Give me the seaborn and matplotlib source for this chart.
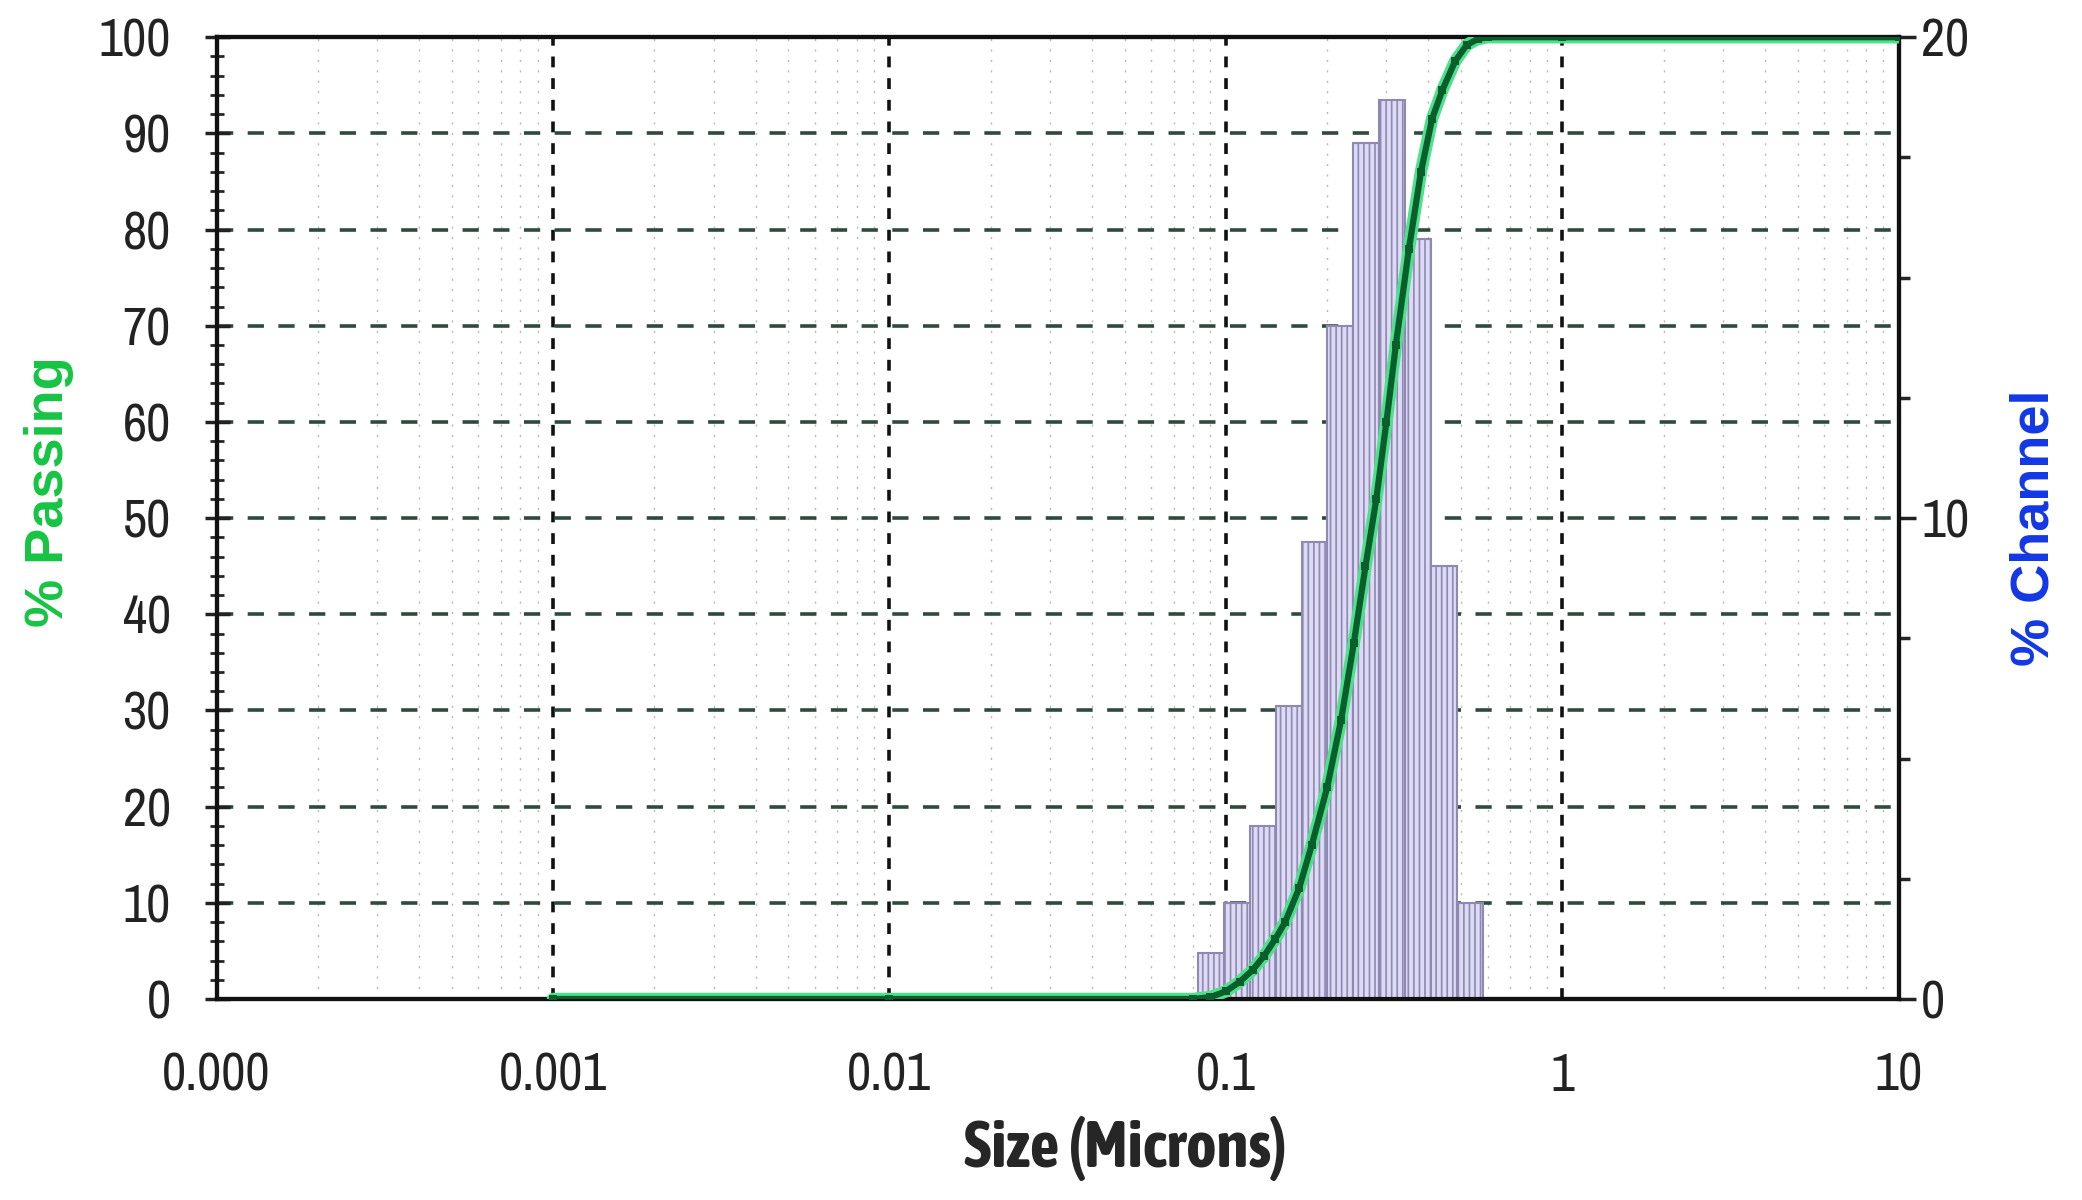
import numpy as np
import pandas as pd
import matplotlib
matplotlib.use("Agg")
import matplotlib.pyplot as plt
import matplotlib.ticker as mticker
from matplotlib import font_manager
import seaborn as sns

# channel bins (microns) and % channel per bin
bin_edges = [0.0826, 0.0986, 0.1178, 0.1406, 0.1679, 0.2004, 0.2388, 0.2851,
             0.3404, 0.4064, 0.4853, 0.5794]
pct_channel = [0.95, 2.0, 3.6, 6.1, 9.5, 14.0, 17.8, 18.7, 15.8, 9.0, 2.0]

# cumulative % passing curve
size_um = [0.001, 0.01, 0.08, 0.09, 0.1, 0.11, 0.12, 0.13, 0.14, 0.15, 0.165,
           0.18, 0.2, 0.22, 0.24, 0.26, 0.28, 0.30, 0.32, 0.35, 0.38, 0.41,
           0.44, 0.48, 0.52, 0.56, 0.6, 1.0, 10.0]
pct_passing = [0, 0, 0, 0.2, 0.8, 1.8, 3.0, 4.5, 6.2, 8.0, 11.5, 16, 22, 29,
               37, 45, 52, 60, 68, 78, 86, 91.5, 94.5, 97.5, 99.2, 99.8,
               100, 100, 100]

xtick_vals = [0.0001, 0.001, 0.01, 0.1, 1, 10]
xtick_labels = ["0.000", "0.001", "0.01", "0.1", "1", "10"]

sns.set_style("white")


def _is_bold(w):
    if isinstance(w, str):
        return w in ('bold', 'heavy', 'extra bold', 'black', 'demibold', 'semibold')
    return w >= 600


# look for a narrow face, like the original
ttf = font_manager.fontManager.ttflist
narrow = sorted({f.name for f in ttf if 'Narrow' in f.name or 'Condensed' in f.name})
narrow_bold = sorted({f.name for f in ttf
                      if ('Narrow' in f.name or 'Condensed' in f.name) and _is_bold(f.weight)})
plt.rcParams['font.family'] = narrow[:1] + ['Liberation Sans', 'DejaVu Sans']
plt.rcParams['hatch.color'] = '#9d94c4'
plt.rcParams['hatch.linewidth'] = 1.2

if narrow_bold:
    xlab_font = dict(family=[narrow_bold[0], 'Liberation Sans'], size=47, weight='bold')
else:
    xlab_font = dict(family=['Liberation Sans', 'DejaVu Sans'], size=39, weight='bold')
ylab_font = dict(family=['Liberation Sans', 'DejaVu Sans'], size=39, weight='bold')

fig = plt.figure(figsize=(20.82, 12), dpi=100)
ax = fig.add_axes([0.104, 0.1675, 0.808, 0.8015])

# histogram on right axis
hist_df = pd.DataFrame({
    'size': np.sqrt(np.array(bin_edges[:-1]) * np.array(bin_edges[1:])),
    'pct': pct_channel,
})
ax2 = ax.twinx()
sns.histplot(data=hist_df, x='size', weights='pct',
             bins=[float(v) for v in np.log10(bin_edges)],
             log_scale=True, ax=ax2, element='bars',
             facecolor='#dcdaf5', edgecolor='#8f88b0', linewidth=1.5,
             hatch='|||', alpha=1.0)
ax2.set_ylim(0, 20)
ax2.set_yticks([0, 10, 20])
ax2.yaxis.set_minor_locator(mticker.MultipleLocator(2.5))
ax2.tick_params(axis='y', which='major', direction='out', length=12, width=2.5,
                labelsize=38, pad=4, colors='#222222')
ax2.tick_params(axis='y', which='minor', direction='out', length=8, width=2.5)
ax2.set_ylabel('% Channel', color='#1238e6', **ylab_font)
ax2.yaxis.set_label_coords(1.066, 0.49)
ax2.grid(False)
for s in ax2.spines.values():
    s.set_linewidth(3)
    s.set_color('#111111')

# cumulative curve on top
ax3 = ax.twinx()
sns.lineplot(x=size_um, y=pct_passing, ax=ax3, color='#4fe08c', lw=9,
             solid_capstyle='round', zorder=2)
sns.lineplot(x=size_um, y=pct_passing, ax=ax3, color='#0a5e2c', lw=4.5,
             marker='s', markersize=6, markeredgewidth=0, zorder=3)
ax3.set_ylim(0, 100)
ax3.set_yticks([])
ax3.set_ylabel('')
ax3.grid(False)
for s in ax3.spines.values():
    s.set_visible(False)

# x axis (shared), set after plotting so the twins do not reset it
ax.set_xscale('log')
ax.set_xlim(0.0001, 10)
ax.set_xticks(xtick_vals)
ax.set_xticklabels(xtick_labels)
ax.xaxis.set_minor_locator(mticker.LogLocator(base=10, subs=np.arange(2, 10)))
ax.xaxis.set_minor_formatter(mticker.NullFormatter())

ax.set_ylim(0, 100)
ax.set_yticks(np.arange(0, 101, 10))
ax.yaxis.set_minor_locator(mticker.MultipleLocator(2))

# grid
ax.grid(which='major', axis='x', color='#111111', lw=2.6, ls=(0, (3, 3)))
ax.grid(which='major', axis='y', color='#2f4a3c', lw=2.6, ls=(0, (4.5, 4)))
ax.grid(which='minor', axis='x', color='#b8b8b8', lw=1.0, ls=(0, (1.5, 6)))

ax.tick_params(axis='x', which='major', direction='out', length=14, width=2.5,
               labelsize=38, pad=24, colors='#222222')
ax.tick_params(axis='x', which='minor', direction='out', length=14, width=2.0)
ax.tick_params(axis='y', which='major', direction='inout', length=18, width=2.5,
               labelsize=38, pad=24, colors='#222222')
ax.tick_params(axis='y', which='minor', direction='inout', length=10, width=2.0)

for s in ax.spines.values():
    s.set_linewidth(3)
    s.set_color('#111111')

ax.set_xlabel('Size (Microns)', **xlab_font)
ax.xaxis.set_label_coords(0.54, -0.122)
ax.set_ylabel('% Passing', color='#16c443', **ylab_font)
ax.yaxis.set_label_coords(-0.085, 0.528)

fig.savefig('out.png', dpi=100)
